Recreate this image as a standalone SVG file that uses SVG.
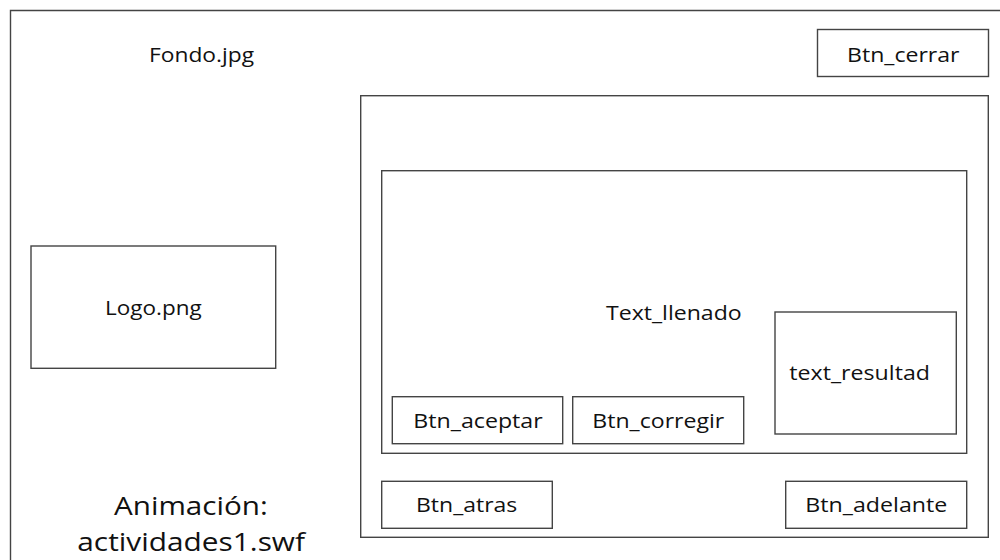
<svg xmlns="http://www.w3.org/2000/svg" width="1000" height="560" viewBox="0 0 1000 560">
<style>
.b{fill:none;stroke:#444;stroke-width:1.4}
.t{font-family:"Open Sans","Noto Sans","Liberation Sans",sans-serif;font-size:20.5px;fill:#111}
.L{font-size:26px}
</style>
<rect x="0" y="0" width="1000" height="560" fill="#fff"/>
<g id="fondo">
<path class="b" d="M10.5,560 V10.5 H1000"/>
<text class="t" x="149" y="62" textLength="105" lengthAdjust="spacingAndGlyphs">Fondo.jpg</text>
</g>
<g id="btn_cerrar">
<rect class="b" x="817.5" y="29.5" width="171" height="47"/>
<text class="t" x="847" y="61.7" textLength="112.5" lengthAdjust="spacingAndGlyphs">Btn_cerrar</text>
</g>
<g id="logo">
<rect class="b" x="31" y="246" width="244.7" height="122.3"/>
<text class="t" x="105" y="315" textLength="96.7" lengthAdjust="spacingAndGlyphs">Logo.png</text>
</g>
<g id="animacion">
<text class="t L" x="114" y="515" textLength="153.7" lengthAdjust="spacingAndGlyphs">Animación:</text>
<text class="t L" x="77.3" y="550.7" textLength="227.7" lengthAdjust="spacingAndGlyphs">actividades1.swf</text>
</g>
<g id="contenedor">
<rect class="b" x="360.7" y="95.7" width="627.6" height="441.6"/>
</g>
<g id="text_llenado">
<rect class="b" x="381.7" y="170.7" width="585" height="282.6"/>
<text class="t" x="606" y="320" textLength="135.7" lengthAdjust="spacingAndGlyphs">Text_llenado</text>
</g>
<g id="text_resultad">
<rect class="b" x="775" y="312" width="181.3" height="122"/>
<text class="t" x="789.3" y="380" textLength="140.7" lengthAdjust="spacingAndGlyphs">text_resultad</text>
</g>
<g id="btn_aceptar">
<rect class="b" x="392.3" y="396.7" width="170.4" height="47"/>
<text class="t" x="413.3" y="428.3" textLength="129.4" lengthAdjust="spacingAndGlyphs">Btn_aceptar</text>
</g>
<g id="btn_corregir">
<rect class="b" x="572.7" y="396.7" width="171" height="47"/>
<text class="t" x="592.3" y="428" textLength="132" lengthAdjust="spacingAndGlyphs">Btn_corregir</text>
</g>
<g id="btn_atras">
<rect class="b" x="381.7" y="481.3" width="170.6" height="47"/>
<text class="t" x="416" y="512.3" textLength="101.3" lengthAdjust="spacingAndGlyphs">Btn_atras</text>
</g>
<g id="btn_adelante">
<rect class="b" x="785.7" y="481.3" width="181" height="47"/>
<text class="t" x="805.3" y="512.3" textLength="142" lengthAdjust="spacingAndGlyphs">Btn_adelante</text>
</g>
<g id="connectors"></g>
</svg>
